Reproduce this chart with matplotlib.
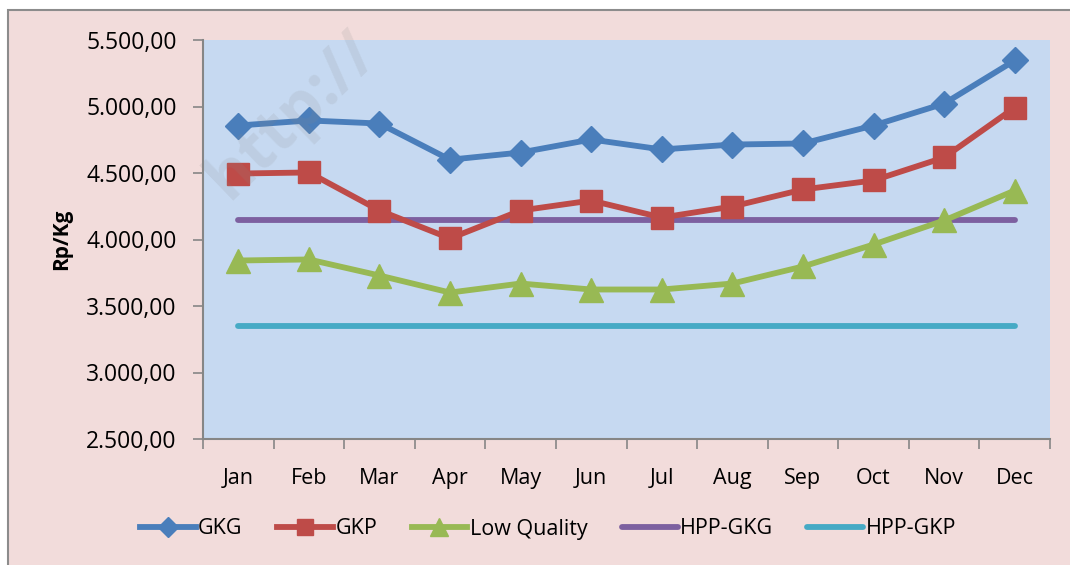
import matplotlib
matplotlib.use("Agg")
import matplotlib.pyplot as plt
from matplotlib.patches import Rectangle
from matplotlib.ticker import FuncFormatter

plt.rcParams['font.family'] = ['Open Sans', 'DejaVu Sans']

# data
months = ['Jan', 'Feb', 'Mar', 'Apr', 'May', 'Jun', 'Jul', 'Aug', 'Sep', 'Oct', 'Nov', 'Dec']
gkg = [4857, 4895, 4872, 4600, 4654, 4752, 4677, 4714, 4722, 4857, 5022, 5346]
gkp = [4496, 4504, 4218, 4008, 4218, 4293, 4165, 4248, 4376, 4444, 4617, 4992]
low_quality = [3842, 3850, 3729, 3601, 3669, 3624, 3624, 3669, 3797, 3962, 4143, 4368]
hpp_gkg = [4150] * 12
hpp_gkp = [3350] * 12
y_ticks = [2500, 3000, 3500, 4000, 4500, 5000, 5500]

W, H = 1070, 565
fig = plt.figure(figsize=(W / 100, H / 100), dpi=100)
fig.patch.set_facecolor('white')
# chart area background with grey border (only top/left visible in crop)
fig.patches.append(Rectangle((8 / W, -0.1), 1.2, 1.1 - 10 / H, transform=fig.transFigure,
                             facecolor='#F2DCDB', edgecolor='#8C8C8C', linewidth=1.5, zorder=-5))

ax = fig.add_axes([203 / W, 1 - 439 / H, (1050 - 203) / W, (439 - 40) / H])
ax.set_facecolor('#C6D9F1')

x = list(range(len(months)))
lw = 4.2
ax.plot(x, gkg, color='#4A7EBB', lw=lw, marker='D', ms=13, label='GKG', zorder=5)
ax.plot(x, gkp, color='#BE4B48', lw=lw, marker='s', ms=16, label='GKP', zorder=5)
ax.plot(x, low_quality, color='#98B954', lw=lw, marker='^', ms=17, label='Low Quality', zorder=5)
ax.plot(x, hpp_gkg, color='#7D60A0', lw=lw, solid_capstyle='round', label='HPP-GKG', zorder=4)
ax.plot(x, hpp_gkp, color='#46AAC5', lw=lw, solid_capstyle='round', label='HPP-GKP', zorder=4)

ax.set_xlim(-0.5, len(months) - 0.5)
ax.set_ylim(y_ticks[0], y_ticks[-1])
ax.set_yticks(y_ticks)
ax.yaxis.set_major_formatter(FuncFormatter(lambda v, p: f"{v:,.2f}".replace(',', 'X').replace('.', ',').replace('X', '.')))
ax.set_xticks([i - 0.5 for i in range(len(months) + 1)])
ax.set_xticklabels([])
ax.set_xticks(x, minor=True)
ax.set_xticklabels(months, minor=True)
ax.tick_params(axis='x', which='minor', length=0, pad=21, labelsize=15.5)
ax.tick_params(axis='x', which='major', length=7, width=1.2, color='#868686')
ax.tick_params(axis='y', length=7, width=1.2, color='#868686', labelsize=16.5, pad=12)

for s in ['top', 'right']:
    ax.spines[s].set_visible(False)
for s in ['left', 'bottom']:
    ax.spines[s].set_color('#868686')
    ax.spines[s].set_linewidth(1.5)

ax.set_ylabel('Rp/Kg', fontsize=15, fontweight='bold')
ax.yaxis.set_label_coords(-131 / (1050 - 203), 0.5)

leg = fig.legend(loc='center', bbox_to_anchor=(548 / W, 1 - 529 / H), ncol=5, frameon=False,
                 fontsize=15.5, handlelength=2.6, handletextpad=0.1, columnspacing=1.6,
                 markerscale=0.75)

# faint watermark
fig.text(240 / W, 1 - 212 / H, 'http://', fontsize=46, fontweight='bold', color='#8A8A8A',
         alpha=0.15, rotation=44, ha='left', va='bottom', rotation_mode='anchor', zorder=10)

fig.savefig('out.png', dpi=100, facecolor=fig.get_facecolor())
